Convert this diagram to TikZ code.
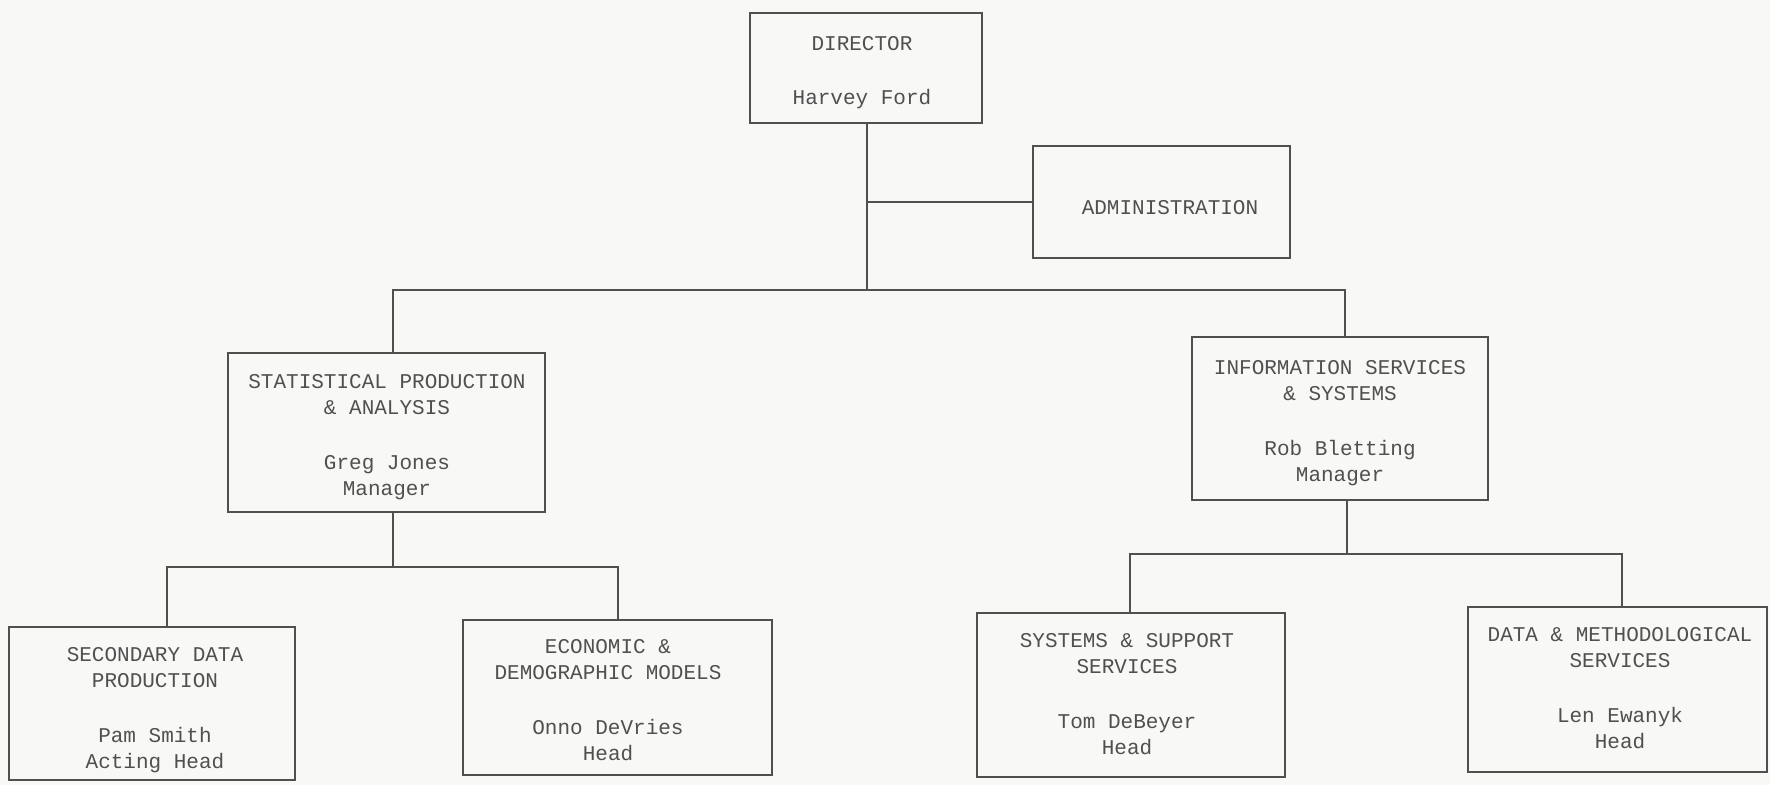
\documentclass[tikz,border=0pt]{standalone}
\usepackage{fontspec}
\setmonofont{Liberation Mono}
\definecolor{ink}{HTML}{505050}
\definecolor{linec}{HTML}{505050}
\definecolor{paper}{HTML}{F8F8F6}
\begin{document}
\begin{tikzpicture}[x=1pt,y=-1pt,
  box/.style={draw=linec, line width=1.5pt, inner sep=0pt},
  txt/.style={inner sep=0pt, align=center, text=ink,
    font=\ttfamily\fontsize{21}{26}\selectfont},
  conn/.style={draw=linec, line width=1.5pt}]
\fill[paper] (0,0) rectangle (1770,785);
\useasboundingbox (0,0) rectangle (1770,785);

% boxes
\node[box, minimum width=232pt, minimum height=110pt] (dir) at (866,68) {};
\node[box, minimum width=257pt, minimum height=112pt] (adm) at (1161.5,202) {};
\node[box, minimum width=317pt, minimum height=159pt] (spa) at (386.5,432.5) {};
\node[box, minimum width=296pt, minimum height=163pt] (iss) at (1340,418.5) {};
\node[box, minimum width=286pt, minimum height=153pt] (sdp) at (152,703.5) {};
\node[box, minimum width=309pt, minimum height=155pt] (edm) at (617.5,697.5) {};
\node[box, minimum width=308pt, minimum height=164pt] (sss) at (1131,695) {};
\node[box, minimum width=299pt, minimum height=165pt] (dms) at (1617.5,689.5) {};

% texts
\node[txt] (dir-t) at (862,73) {DIRECTOR\\[28pt]Harvey Ford};
\node[txt] (adm-t) at (1170,208) {ADMINISTRATION};
\node[txt] (spa-t) at (387,437) {STATISTICAL PRODUCTION\\\& ANALYSIS\\[29pt]Greg Jones\\Manager};
\node[txt] (iss-t) at (1340,423) {INFORMATION SERVICES\\\& SYSTEMS\\[29pt]Rob Bletting\\Manager};
\node[txt] (sdp-t) at (155,710) {SECONDARY DATA\\PRODUCTION\\[29pt]Pam Smith\\Acting Head};
\node[txt] (edm-t) at (608,700) {ECONOMIC \&\\DEMOGRAPHIC MODELS\\[29pt]Onno DeVries\\Head};
\node[txt] (sss-t) at (1127,694) {SYSTEMS \& SUPPORT\\SERVICES\\[29pt]Tom DeBeyer\\Head};
\node[txt] (dms-t) at (1620,688) {DATA \& METHODOLOGICAL\\SERVICES\\[29pt]Len Ewanyk\\Head};

% top level
\coordinate (t0) at (867,290);
\coordinate (ta) at (393,290);
\coordinate (tb) at (1345,290);
\draw[conn] (dir.south -| t0) -- (t0);
\draw[conn] (dir.south |- adm.west) -- (adm.west);
\draw[conn] (ta |- spa.north) -- (ta) -- (tb) -- (tb |- iss.north);

% left branch
\coordinate (l0) at (393,567);
\coordinate (la) at (167,567);
\coordinate (lb) at (618,567);
\draw[conn] (spa.south -| l0) -- (l0);
\draw[conn] (la |- sdp.north) -- (la) -- (lb) -- (lb |- edm.north);

% right branch
\coordinate (r0) at (1347,554);
\coordinate (ra) at (1130,554);
\coordinate (rb) at (1622,554);
\draw[conn] (iss.south -| r0) -- (r0);
\draw[conn] (ra |- sss.north) -- (ra) -- (rb) -- (rb |- dms.north);
\end{tikzpicture}
\end{document}
